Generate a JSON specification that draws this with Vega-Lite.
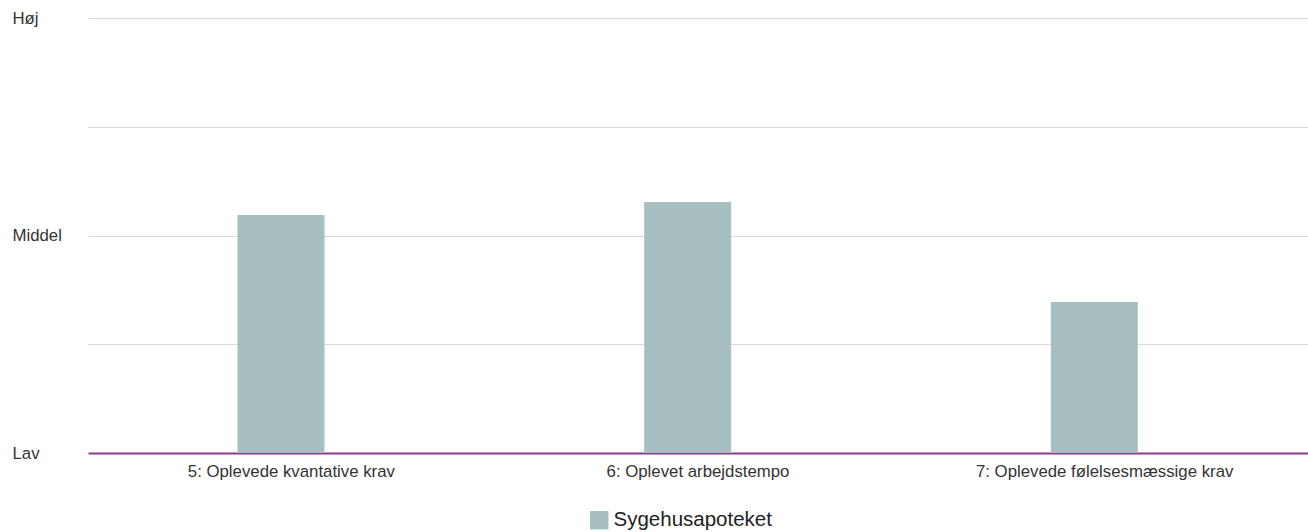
{
  "$schema": "https://vega.github.io/schema/vega-lite/v6.json",
  "width": 1220,
  "height": 435,
  "autosize": {"type": "none"},
  "padding": {"left": 88, "top": 18, "right": 0, "bottom": 79},
  "background": "white",
  "config": {
    "view": {"stroke": null},
    "font": "Liberation Sans"
  },
  "data": {
    "values": [
      {"kategori": "5: Oplevede kvantative krav", "serie": "Sygehusapoteket", "score": 54.7},
      {"kategori": "6: Oplevet arbejdstempo", "serie": "Sygehusapoteket", "score": 57.7},
      {"kategori": "7: Oplevede følelsesmæssige krav", "serie": "Sygehusapoteket", "score": 34.7}
    ]
  },
  "mark": {"type": "bar", "width": 87},
  "encoding": {
    "x": {
      "field": "kategori",
      "type": "nominal",
      "sort": null,
      "title": null,
      "scale": {"paddingInner": 0, "paddingOuter": 0},
      "axis": {
        "labelAngle": 0,
        "ticks": false,
        "domain": false,
        "labelFontSize": 16.8,
        "labelColor": "#333333",
        "labelPadding": 10,
        "labelLimit": 0,
        "grid": false
      }
    },
    "xOffset": {
      "field": "serie",
      "type": "nominal",
      "scale": {"range": [0, 386]}
    },
    "y": {
      "field": "score",
      "type": "quantitative",
      "title": null,
      "scale": {"domain": [0, 100], "nice": false},
      "axis": {
        "values": [0, 25, 50, 75, 100],
        "labelExpr": "datum.value === 0 ? 'Lav' : datum.value === 50 ? 'Middel' : datum.value === 100 ? 'Høj' : ''",
        "ticks": false,
        "domain": false,
        "labelAlign": "left",
        "labelPadding": 76,
        "labelFontSize": 16.8,
        "labelColor": "#333333",
        "grid": true,
        "gridColor": {"condition": {"test": "datum.value === 0", "value": "#8c3a8e"}, "value": "#d9d9d9"},
        "gridWidth": {"condition": {"test": "datum.value === 0", "value": 2}, "value": 1},
        "zindex": 0
      }
    },
    "color": {
      "field": "serie",
      "type": "nominal",
      "scale": {"range": ["#a8bfc1"]},
      "legend": {
        "title": null,
        "orient": "none",
        "legendX": 501,
        "legendY": 492,
        "symbolType": "square",
        "symbolSize": 340,
        "symbolStrokeWidth": 0,
        "labelFontSize": 20.5,
        "labelColor": "#222222",
        "labelOffset": 4,
        "labelLimit": 0
      }
    }
  }
}
